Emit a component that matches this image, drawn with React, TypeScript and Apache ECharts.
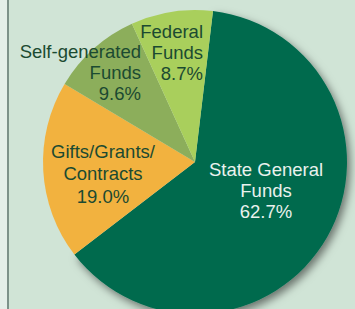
import React, { useEffect, useRef } from "react";
import * as echarts from "echarts";

const categories = ["State General Funds", "Gifts/Grants/Contracts", "Self-generated Funds", "Federal Funds"];
const labelTexts = ["State General\nFunds", "Gifts/Grants/\nContracts", "Self-generated\nFunds", "Federal\nFunds"];
const values = [62.7, 19.0, 9.6, 8.7];
const colors = ["#036a4e", "#f2b23f", "#8cae5b", "#a9cf5c"];

const labelLayout = [
  { x: 266, y: 159, align: "center", fill: "#eaf2ee", lh: 21 },
  { x: 103, y: 140, align: "center", fill: "#1b4a31", lh: 22.5 },
  { x: 141, y: 41, align: "right", fill: "#1b4a31", lh: 21 },
  { x: 203, y: 21, align: "right", fill: "#1b4a31", lh: 21 },
];

export default function App() {
  const ref = useRef<HTMLDivElement>(null);
  useEffect(() => {
    if (!ref.current) return;
    const chart = echarts.init(ref.current, null, { renderer: "svg" });
    const font = "'Liberation Sans', Arial, sans-serif";
    chart.setOption({
      animation: false,
      backgroundColor: "#d0e4d6",
      graphic: [
        { type: "rect", z: 0, shape: { x: 0, y: 0, width: 7, height: 309 }, style: { fill: "#e4eee9" } },
        { type: "rect", z: 0, shape: { x: 7, y: 0, width: 2, height: 309 }, style: { fill: "#7d918a" } },
        ...categories.map((c, i) => ({
          type: "text",
          z: 100,
          x: labelLayout[i].x,
          y: labelLayout[i].y,
          style: {
            text: labelTexts[i] + "\n" + values[i].toFixed(1) + "%",
            fill: labelLayout[i].fill,
            font: `18.5px ${font}`,
            align: labelLayout[i].align,
            verticalAlign: "top",
            lineHeight: labelLayout[i].lh,
          },
        })),
      ],
      series: [
        {
          type: "pie",
          center: [195, 162],
          radius: 152,
          startAngle: 83.2,
          clockwise: true,
          silent: true,
          label: { show: false },
          labelLine: { show: false },
          data: categories.map((c, i) => ({
            name: c,
            value: values[i],
            itemStyle: {
              color: colors[i],
              borderWidth: 0,
              ...(i === 0
                ? { shadowBlur: 8, shadowColor: "rgba(0,0,0,0.5)", shadowOffsetX: 3, shadowOffsetY: 4 }
                : {}),
            },
          })),
        },
      ],
    });
    return () => chart.dispose();
  }, []);
  return (
    <div
      ref={ref}
      style={{ position: "absolute", left: 0, top: 0, width: 355, height: 309 }}
    />
  );
}
